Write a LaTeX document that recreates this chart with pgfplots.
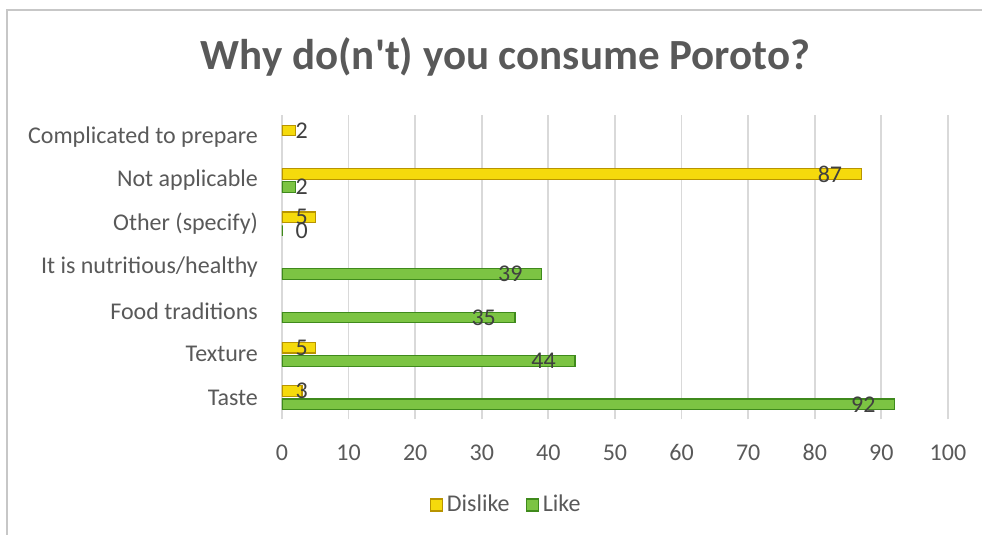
\documentclass[border=0pt]{standalone}
\usepackage{pgfplots}
\pgfplotsset{compat=1.18}
\usepackage{fontspec}
\setmainfont{Carlito}
\definecolor{txt}{HTML}{595959}
\definecolor{lbl}{HTML}{404040}
\definecolor{gridc}{HTML}{D9D9D9}
\definecolor{ylw}{HTML}{F5DA0C}
\definecolor{ylwD}{HTML}{B89400}
\definecolor{grn}{HTML}{7CC443}
\definecolor{grnD}{HTML}{3F8A1C}
\begin{document}
\begin{tikzpicture}
\begin{axis}[
  at={(0pt,0pt)}, anchor=south west, scale only axis,
  width=333pt, height=152pt,
  xbar, bar width=5.3pt,
  xmin=0, xmax=100, ymin=-0.5, ymax=6.5,
  xtick={0,10,...,100}, ytick={0,...,6},
  yticklabels={Taste, Texture, Food traditions, It is nutritious/healthy\hspace{3.5pt}, Other (specify), Not applicable\hspace{3.5pt}, Complicated to prepare},
  xmajorgrids, ymajorgrids=false,
  grid style={gridc, line width=0.9pt},
  axis line style={draw=none},
  major tick length=0pt,
  tick label style={font=\fontsize{12}{14}\selectfont, text=txt},
  /pgf/number format/assume math mode=true,
  xticklabel style={yshift=-9pt},
  yticklabel style={xshift=-8.5pt},
  point meta=x,
  nodes near coords,
  visualization depends on={x \as \rawx},
  every node near coord/.append style={font=\fontsize{12}{14}\selectfont, text=lbl, anchor=east,
     xshift={ifthenelse(\rawx<10,(3.75-\rawx)*3.33+4,-6)}},
  legend style={at={(axis description cs:0.338,-0.2816)}, anchor=center, draw=none, fill=none,
     legend columns=2, font=\fontsize{12}{14}\selectfont, text=txt,
     /tikz/every even column/.append style={column sep=6pt}},
  legend cell align=left,
]
\addplot[bar shift=3.3pt, fill=ylw, draw=ylwD, line width=0.6pt,
  legend image code/.code={\fill[fill=ylw, draw=ylwD, line width=0.6pt] (0pt,-3pt) rectangle (6pt,3pt);}]
  coordinates {(3,0) (5,1) (5,4) (87,5) (2,6)};
\addlegendentry{Dislike}
\addplot[bar shift=-3.3pt, fill=grn, draw=grnD, line width=0.6pt,
  legend image code/.code={\fill[fill=grn, draw=grnD, line width=0.6pt] (0pt,-3pt) rectangle (6pt,3pt);}]
  coordinates {(92,0) (44,1) (35,2) (39,3) (0,4) (2,5)};
\addlegendentry{Like}
\end{axis}
\node[anchor=base, font=\fontsize{21.5}{25}\selectfont\bfseries, text=txt] at (111.75pt,174.7pt) {Why do(n\textquotesingle t) you consume Poroto?};
\draw[color=black!22, line width=1pt] (-137.25pt,-57.8pt) -- (-137.25pt,204.7pt) -- (350pt,204.7pt);
\pgfresetboundingbox
\path[use as bounding box] (-141pt,-57.8pt) rectangle (350pt,209.7pt);
\end{tikzpicture}
\end{document}
